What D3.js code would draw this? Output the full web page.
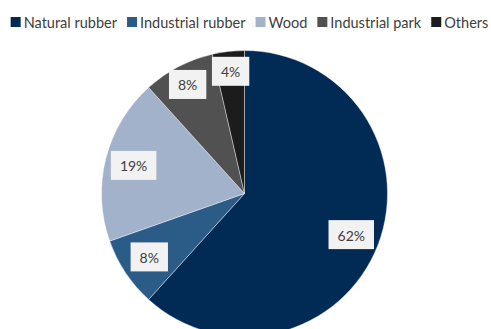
<!DOCTYPE html>
<html>
<head>
<meta charset="utf-8">
<script src="https://cdn.jsdelivr.net/npm/d3@7"></script>
<style>
  html, body { margin: 0; padding: 0; background: #ffffff; }
  svg { display: block; font-family: "Source Sans Pro", Lato, "Open Sans", sans-serif; }
</style>
</head>
<body>
<svg id="chart" width="491" height="329"></svg>
<script>
const categories = ["Natural rubber", "Industrial rubber", "Wood", "Industrial park", "Others"];
const values = [61.7, 7.9, 18.7, 8.1, 3.6];
const labels = ["62%", "8%", "19%", "8%", "4%"];
const colors = ["#012b55", "#2b5c87", "#a2b2cb", "#515151", "#1c1c1c"];

const W = 491, H = 329;
const svg = d3.select("#chart");
const cx = 244.5, cy = 193.5, r = 143;

const data = categories.map((c, i) => ({ name: c, value: values[i], label: labels[i], color: colors[i] }));

const pie = d3.pie().value(d => d.value).sort(null);
const arcs = pie(data);
const arc = d3.arc().innerRadius(0).outerRadius(r);

const g = svg.append("g").attr("transform", `translate(${cx},${cy})`);
g.selectAll("path.slice")
  .data(arcs)
  .enter().append("path")
  .attr("class", "slice")
  .attr("d", arc)
  .attr("fill", d => d.data.color)
  .attr("stroke", "#ffffff")
  .attr("stroke-width", 0.4);

// data labels
const lab = g.selectAll("g.lab").data(arcs).enter().append("g").attr("class", "lab");
lab.each(function(d) {
  const mid = (d.startAngle + d.endAngle) / 2;
  const lr = mid > 5.5 ? r * 0.86 : r * 0.8;
  const x = Math.sin(mid) * lr, y = -Math.cos(mid) * lr;
  const sel = d3.select(this);
  const t = sel.append("text")
    .attr("x", x).attr("y", y + 0.5)
    .attr("text-anchor", "middle")
    .attr("dominant-baseline", "central")
    .attr("font-size", 14)
    .attr("fill", "#404040")
    .text(d.data.label);
  const bw = t.node().getComputedTextLength() + 18;
  const bh = 29;
  sel.insert("rect", "text")
    .attr("x", x - bw / 2).attr("y", y - bh / 2)
    .attr("width", bw).attr("height", bh)
    .attr("fill", "#f2f2f2");
});

// legend
const legend = svg.append("g");
const targetTotal = 478, sqW = 13, gap = 10;
let fs = 15.5;
// measure text at base size, then fit to the reference span
const meas = legend.append("text").attr("font-size", fs);
let textSum = 0;
categories.forEach(c => { meas.text(c); textSum += meas.node().getComputedTextLength(); });
meas.remove();
fs = fs * (targetTotal - categories.length * sqW - (categories.length - 1) * gap) / textSum;

let xpos = 0;
data.forEach((d, i) => {
  const item = legend.append("g").attr("transform", `translate(${xpos},0)`);
  item.append("rect").attr("x", 0).attr("y", 17).attr("width", 10).attr("height", 10).attr("fill", d.color);
  const t = item.append("text").attr("x", sqW).attr("y", 27.5)
    .attr("font-size", fs).attr("fill", "#404040").text(d.name);
  xpos += sqW + t.node().getComputedTextLength() + gap;
});
const totalW = xpos - gap;
legend.attr("transform", `translate(${(W - totalW) / 2 + 4},0)`);
</script>
</body>
</html>
